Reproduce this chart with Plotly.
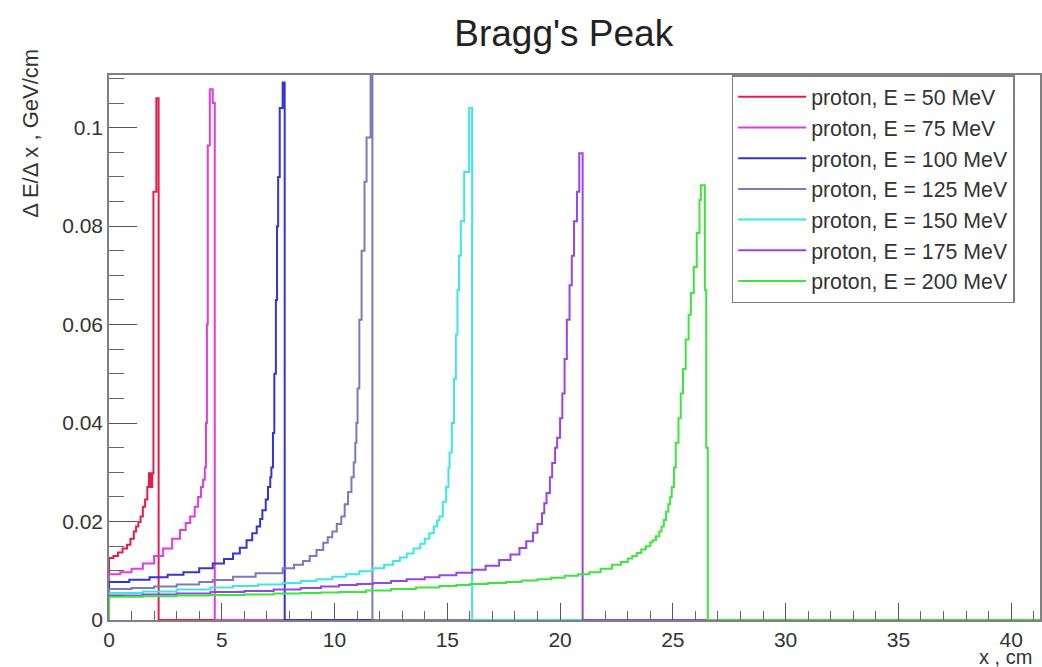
import plotly.graph_objects as go

# ---- data (x in cm = left edge of step, dE/dx in GeV/cm) ----
energies = ["50", "75", "100", "125", "150", "175", "200"]
colors = ["#e21f4c", "#e03ce3", "#3434d6", "#7c79bd", "#3fe6e6", "#9845e6", "#3fe43f"]

x_50 = [0, 0.2, 0.4, 0.6, 0.8, 0.95, 1.1, 1.2, 1.3, 1.4, 1.5, 1.6, 1.7, 1.77, 1.85, 1.92, 1.97, 2.1, 2.2]
y_50 = [0.0126, 0.013, 0.0137, 0.0145, 0.0153, 0.0165, 0.018, 0.019, 0.0199, 0.021, 0.023, 0.0245, 0.027, 0.0298, 0.027, 0.0298, 0.087, 0.106, 0]

x_75 = [0, 0.5, 1.0, 1.5, 2.0, 2.4, 2.8, 3.15, 3.4, 3.6, 3.8, 3.95, 4.08, 4.17, 4.25, 4.3, 4.34, 4.38, 4.47, 4.6, 4.69]
y_75 = [0.0093, 0.0097, 0.0104, 0.0115, 0.013, 0.0145, 0.0165, 0.0183, 0.0197, 0.021, 0.023, 0.025, 0.027, 0.0285, 0.031, 0.04, 0.06, 0.0964, 0.1078, 0.105, 0]

x_100 = [0, 0.9, 1.8, 2.6, 3.3, 4.0, 4.6, 5.1, 5.5, 5.8, 6.1, 6.35, 6.55, 6.7, 6.8, 6.95, 7.05, 7.15, 7.2, 7.27, 7.33, 7.4, 7.45, 7.5, 7.57, 7.7, 7.79]
y_100 = [0.0077, 0.0082, 0.0087, 0.0092, 0.0097, 0.0105, 0.0115, 0.0124, 0.0135, 0.0147, 0.0162, 0.0176, 0.019, 0.0205, 0.0223, 0.0245, 0.027, 0.029, 0.031, 0.038, 0.05, 0.065, 0.08, 0.09, 0.104, 0.1092, 0]

x_125 = [0, 1.0, 2.0, 3.0, 4.0, 4.6, 5.5, 6.5, 7.7, 8.2, 8.6, 8.9, 9.2, 9.5, 9.7, 9.9, 10.1, 10.3, 10.45, 10.6, 10.75, 10.85, 10.92, 10.97, 11.02, 11.1, 11.2, 11.33, 11.42, 11.6, 11.68]
y_125 = [0.0063, 0.0065, 0.0068, 0.0072, 0.0077, 0.0081, 0.0088, 0.0095, 0.0105, 0.0112, 0.012, 0.013, 0.0142, 0.0157, 0.0168, 0.018, 0.0195, 0.021, 0.0235, 0.026, 0.029, 0.032, 0.036, 0.04, 0.047, 0.061, 0.075, 0.089, 0.098, 0.112, 0]

x_150 = [0, 1.5, 3.0, 4.5, 5.5, 6.6, 7.7, 8.5, 9.2, 9.9, 10.5, 11.1, 11.7, 12.2, 12.6, 12.9, 13.2, 13.5, 13.8, 14.0, 14.2, 14.4, 14.55, 14.65, 14.8, 14.95, 15.05, 15.1, 15.2, 15.3, 15.38, 15.45, 15.52, 15.6, 15.75, 15.97, 16.1]
y_150 = [0.0055, 0.0058, 0.0062, 0.0066, 0.0069, 0.0072, 0.0075, 0.0079, 0.0083, 0.0088, 0.0093, 0.0099, 0.0105, 0.0112, 0.012, 0.0127, 0.0135, 0.0145, 0.0155, 0.0165, 0.0176, 0.019, 0.0202, 0.021, 0.024, 0.027, 0.031, 0.034, 0.04, 0.049, 0.058, 0.067, 0.074, 0.081, 0.091, 0.104, 0]

x_175 = [0, 1.5, 3.0, 4.5, 6.0, 7.3, 8.5, 9.4, 10.2, 11.0, 11.7, 12.5, 13.2, 14.0, 14.65, 15.4, 16.1, 16.7, 17.3, 17.8, 18.2, 18.5, 18.8, 19.0, 19.2, 19.3, 19.4, 19.55, 19.65, 19.78, 19.87, 20.0, 20.1, 20.2, 20.3, 20.42, 20.52, 20.62, 20.75, 20.85, 21.0]
y_175 = [0.005, 0.0052, 0.0054, 0.0057, 0.0059, 0.0062, 0.0065, 0.0068, 0.0071, 0.0073, 0.0075, 0.0079, 0.0083, 0.0087, 0.0091, 0.0096, 0.0102, 0.011, 0.0122, 0.0133, 0.0146, 0.016, 0.0177, 0.0195, 0.0217, 0.0237, 0.0258, 0.029, 0.0319, 0.035, 0.037, 0.041, 0.046, 0.053, 0.061, 0.068, 0.074, 0.081, 0.087, 0.0948, 0]

x_200 = [0, 1.5, 3.0, 4.5, 6.0, 7.3, 8.5, 9.4, 10.2, 11.4, 12.5, 13.6, 14.65, 15.4, 16.0, 16.8, 17.6, 18.3, 19.0, 19.6, 20.2, 20.8, 21.3, 21.8, 22.3, 22.7, 23.0, 23.2, 23.4, 23.6, 23.8, 24.0, 24.1, 24.25, 24.4, 24.5, 24.6, 24.7, 24.8, 24.88, 24.95, 25.05, 25.13, 25.25, 25.35, 25.45, 25.57, 25.7, 25.8, 25.93, 26.06, 26.18, 26.24, 26.42, 26.48, 26.55]
y_200 = [0.0047, 0.0048, 0.005, 0.0051, 0.0052, 0.0054, 0.0055, 0.0056, 0.0057, 0.006, 0.0063, 0.0066, 0.0069, 0.0071, 0.0073, 0.0075, 0.0077, 0.008, 0.0083, 0.0086, 0.009, 0.0093, 0.0097, 0.0104, 0.0112, 0.0118, 0.0125, 0.013, 0.0136, 0.0143, 0.015, 0.0158, 0.0162, 0.017, 0.018, 0.019, 0.0203, 0.022, 0.0235, 0.025, 0.027, 0.031, 0.036, 0.041, 0.046, 0.051, 0.057, 0.062, 0.0664, 0.0717, 0.0786, 0.0853, 0.0883, 0.067, 0.035, 0]

x_range = [0, 41.28]
y_range = [0, 0.1107]
x_ticks = [0, 5, 10, 15, 20, 25, 30, 35, 40]
y_ticks = [0, 0.02, 0.04, 0.06, 0.08, 0.1]

series_x = [x_50, x_75, x_100, x_125, x_150, x_175, x_200]
series_y = [y_50, y_75, y_100, y_125, y_150, y_175, y_200]

FONT = "Liberation Sans, Arial, sans-serif"

fig = go.Figure()
for e, c, xs, ys in zip(energies, colors, series_x, series_y):
    fig.add_trace(go.Scatter(
        x=[0] + xs + [x_range[1]],
        y=[0] + ys + [0],
        mode="lines",
        line=dict(color=c, width=2, shape="hv"),
        name=f"proton, E = {e} MeV",
    ))

axis_common = dict(
    showgrid=False, zeroline=False,
    showline=True, linecolor="#808080", linewidth=1.5, mirror=True,
    ticks="inside", tickcolor="#555555", tickwidth=1,
    tickfont=dict(family=FONT, size=21, color="#333333"),
)

fig.update_xaxes(
    range=x_range, tickvals=x_ticks, ticklen=17,
    minor=dict(dtick=1, ticks="inside", ticklen=9, tickcolor="#666666", tickwidth=1),
    **axis_common,
)
fig.update_yaxes(
    range=y_range, tickvals=y_ticks, ticklen=28,
    minor=dict(dtick=0.005, ticks="inside", ticklen=15, tickcolor="#666666", tickwidth=1),
    **axis_common,
)

fig.update_layout(
    width=1042, height=667,
    margin=dict(l=109, r=0, t=75, b=47),
    paper_bgcolor="white", plot_bgcolor="white",
    title=dict(text="Bragg's Peak", x=0.541, xref="container", xanchor="center",
               y=0.951, yref="container", yanchor="middle",
               font=dict(family=FONT, size=37, color="#222222")),
    legend=dict(
        x=(733 - 109) / 933, y=1.0, xanchor="left", yanchor="top",
        bordercolor="#808080", borderwidth=1.5, bgcolor="white",
        font=dict(family=FONT, size=21.3, color="#333333"),
        itemwidth=68, tracegroupgap=0,
    ),
    showlegend=True,
)

fig.add_annotation(
    text="\u0394 E/\u0394 x , GeV/cm", textangle=-90,
    xref="paper", yref="paper", x=(30 - 109) / 933, y=(620 - 47) / 545,
    xanchor="center", yanchor="top", showarrow=False,
    font=dict(family=FONT, size=22, color="#333333"),
)
fig.add_annotation(
    text="x , cm",
    xref="paper", yref="paper", x=(1036 - 109) / 933, y=(620 - 657) / 545,
    xanchor="right", yanchor="middle", showarrow=False,
    font=dict(family=FONT, size=20, color="#333333"),
)

fig.write_html(
    "out.html",
    config={"displayModeBar": False},
    post_script="document.body.style.margin='0';document.body.style.overflow='hidden';",
)
